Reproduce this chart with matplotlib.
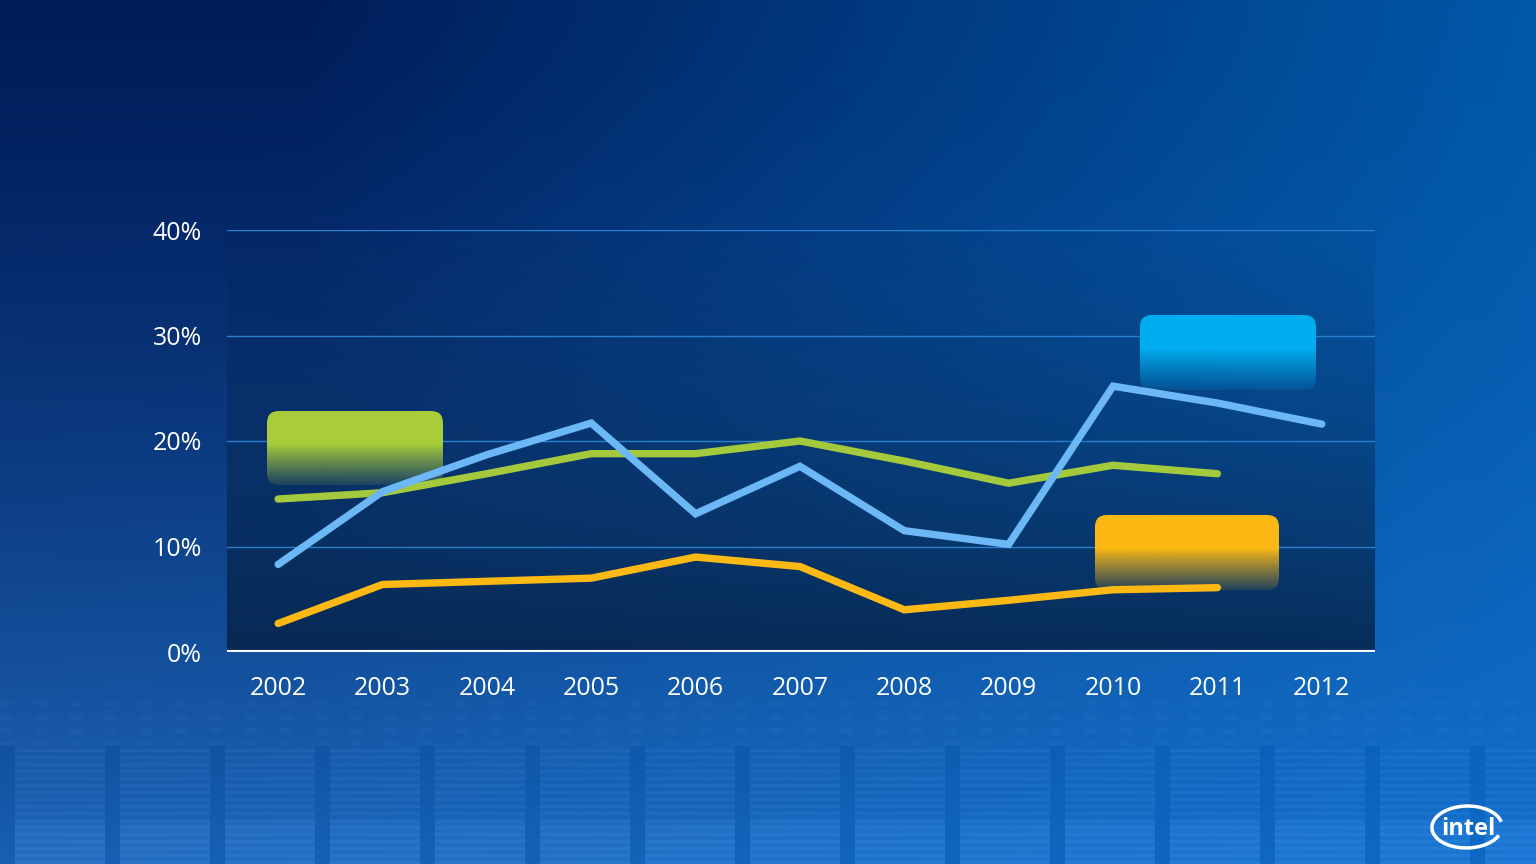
import numpy as np
import matplotlib
matplotlib.use("Agg")
import matplotlib.pyplot as plt
from matplotlib.patches import FancyBboxPatch, Arc

plt.rcParams['font.family'] = ['Open Sans', 'DejaVu Sans']

years = [2002, 2003, 2004, 2005, 2006, 2007, 2008, 2009, 2010, 2011, 2012]
blue_vals = [8.3, 15.2, 18.7, 21.7, 13.1, 17.6, 11.5, 10.2, 25.2, 23.6, 21.6]
green_vals = [14.5, 15.1, 16.9, 18.8, 18.8, 20.0, 18.1, 16.0, 17.7, 16.9]
yellow_vals = [2.7, 6.4, 6.7, 7.0, 9.0, 8.1, 4.0, 4.9, 5.9, 6.1]
yticks = [0, 10, 20, 30, 40]
ytick_labels = ['0%', '10%', '20%', '30%', '40%']

W, H = 1536, 864
fig = plt.figure(figsize=(W / 100, H / 100), dpi=100)

# background: diagonal blue gradient + a faint chip-like pattern at the bottom
bg = fig.add_axes([0, 0, 1, 1])
bg.set_axis_off()
xx, yy = np.meshgrid(np.linspace(0, 1, W), np.linspace(0, 1, H))
tl = np.array([0x00, 0x1d, 0x5a]) / 255
tr = np.array([0x00, 0x58, 0xa8]) / 255
bl = np.array([0x1e, 0x66, 0xb8]) / 255
br = np.array([0x14, 0x70, 0xcc]) / 255
xs = np.clip((xx - 0.2) / 0.8, 0, 1)[..., None]
top = tl * (1 - xs) + tr * xs
bot = bl * (1 - xx[..., None]) + br * xx[..., None]
img = top * (1 - yy[..., None] ** 1.4) + bot * yy[..., None] ** 1.4

PX, PY = np.meshgrid(np.arange(W), np.arange(H))
band = PY > 700
col = ((PX - 330) % 105) < 90
rows = (PY % 7) < 3
pattern = np.zeros((H, W))
pattern += np.where(band & col & (PY > 745) & rows, 0.025, 0)
pattern += np.where(band & col & (PY > 820), 0.03, 0)
pattern -= np.where(band & ~col & (PY > 745), 0.025, 0)
pattern += np.where(band & (PY < 745) & ((PX % 35) < 12) & ((PY % 14) < 6), 0.015, 0)
img = np.clip(img + pattern[..., None], 0, 1)
bg.imshow(img, extent=[0, 1, 0, 1], aspect='auto', origin='upper')
bg.set_xlim(0, 1)
bg.set_ylim(0, 1)

ax = fig.add_axes([227 / W, 212 / H, 1148 / W, 422 / H])
ax.patch.set_alpha(0)
x0, x1 = 2001.51, 2012.51
ax.set_xlim(x0, x1)
ax.set_ylim(0, 40)

# darker plot-area overlay, stronger toward the bottom
g = np.linspace(0, 1, 256)[:, None]
over = np.zeros((256, 1, 4))
over[..., 0] = 0.02
over[..., 1] = 0.13
over[..., 2] = 0.27
over[..., 3] = 0.05 + 0.78 * g ** 1.2
ax.imshow(over, extent=[x0, x1, 0, 40], aspect='auto', origin='upper', zorder=0)

for v in yticks[1:]:
    ax.axhline(v, color='#2a80d0', lw=1.0, zorder=1)
ax.axhline(0, color='white', lw=3, zorder=5)

xpx = 1148 / (x1 - x0)
ypx = 422 / 40


def fade_box(fx, fy, fw, fh, color):
    xa = x0 + fx * (x1 - x0)
    xb = x0 + (fx + fw) * (x1 - x0)
    ya = fy * 40
    yb = (fy + fh) * 40
    patch = FancyBboxPatch((xa, ya), xb - xa, yb - ya,
                           boxstyle='round,pad=0,rounding_size=%f' % (12 / xpx),
                           mutation_aspect=xpx / ypx,
                           facecolor='none', edgecolor='none')
    ax.add_patch(patch)
    c = matplotlib.colors.to_rgb(color)
    n = 200
    s = np.linspace(0, 1, n)[:, None]
    grad = np.zeros((n, 1, 4))
    grad[..., :3] = c
    grad[..., 3] = np.where(s < 0.45, 1.0, 1.0 - 0.88 * ((s - 0.45) / 0.55) ** 0.9)
    im = ax.imshow(grad, extent=[xa, xb, ya, yb], aspect='auto', origin='upper', zorder=2)
    im.set_clip_path(patch)


fade_box(40 / 1148, 167 / 422, 176 / 1148, 74 / 422, '#a9cd3a')
fade_box(913 / 1148, 262 / 422, 176 / 1148, 75 / 422, '#00aeef')
fade_box(868 / 1148, 62 / 422, 184 / 1148, 75 / 422, '#fdb913')

ax.plot(years[:len(yellow_vals)], yellow_vals, color='#fdb913', lw=5.3,
        solid_capstyle='round', solid_joinstyle='miter', zorder=3)
ax.plot(years[:len(green_vals)], green_vals, color='#a4c93c', lw=5.3,
        solid_capstyle='round', solid_joinstyle='miter', zorder=3)
ax.plot(years, blue_vals, color='#6cb8f7', lw=5.3,
        solid_capstyle='round', solid_joinstyle='miter', zorder=4)

ax.set_xlim(x0, x1)
ax.set_ylim(0, 40)
ax.set_xticks(years)
ax.set_xticklabels([str(y) for y in years])
ax.set_yticks(yticks)
ax.set_yticklabels(ytick_labels)
ax.tick_params(length=0, colors='white', labelsize=18)
ax.tick_params(axis='x', pad=17)
ax.tick_params(axis='y', pad=18)
for sp in ax.spines.values():
    sp.set_visible(False)

# intel logo
fig.text(1468 / W, 1 - 829 / H, 'intel', color='white', fontsize=17,
         fontweight='bold', ha='center', va='center')
fig.add_artist(Arc((1467 / W, 1 - 827 / H), 70 / W, 42 / H, angle=-10,
                   theta1=25, theta2=345, color='white', lw=2.5,
                   transform=fig.transFigure))

fig.savefig('out.png', dpi=100)
